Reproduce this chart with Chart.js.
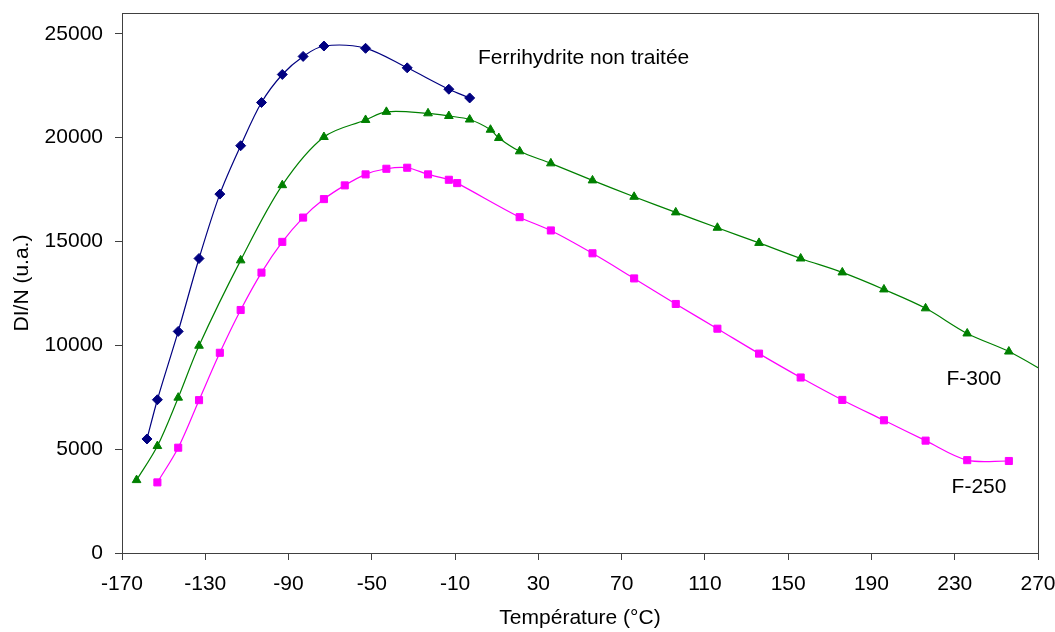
<!DOCTYPE html>
<html>
<head>
<meta charset="utf-8">
<script src="https://cdn.jsdelivr.net/npm/chart.js@4"></script>
<style>
  body { margin: 0; background: #fff; }
  #wrap { width: 1055px; height: 632px; }
</style>
</head>
<body>
<div id="wrap"><canvas id="chart"></canvas></div>
<script>
// temperatures (°C) and DI/N values
const ferriT = [-158, -153, -143, -133, -123, -113, -103, -93, -83, -73, -53, -33, -13, -3];
const ferriV = [5490, 7380, 10670, 14180, 17280, 19610, 21690, 23040, 23910, 24410, 24300, 23360, 22330, 21910];

const f300T = [-163, -153, -143, -133, -113, -93, -73, -53, -43, -23, -13, -3, 7, 11, 21, 36, 56, 76, 96, 116, 136, 156, 176, 196, 216, 236, 256, 276];
const f300V = [3510, 5150, 7480, 9980, 14090, 17710, 20030, 20850, 21240, 21170, 21040, 20870, 20380, 19980, 19340, 18760, 17940, 17150, 16400, 15660, 14930, 14180, 13510, 12690, 11780, 10570, 9700, 8580];

const f250T = [-153, -143, -133, -123, -113, -103, -93, -83, -73, -63, -53, -43, -33, -23, -13, -9, 21, 36, 56, 76, 96, 116, 136, 156, 176, 196, 216, 236, 256];
const f250V = [3400, 5070, 7360, 9640, 11700, 13500, 14980, 16150, 17040, 17700, 18230, 18500, 18550, 18230, 17970, 17810, 16170, 15530, 14430, 13220, 11990, 10800, 9600, 8450, 7370, 6390, 5410, 4470, 4430];

const xTicks = [-170, -130, -90, -50, -10, 30, 70, 110, 150, 190, 230, 270];
const yTicks = [0, 5000, 10000, 15000, 20000, 25000];

// series name labels, anchored in data units
const seriesLabels = [
    { text: 'Ferrihydrite non traitée', x: 1, y: 23830 },
    { text: 'F-300', x: 226, y: 8380 },
    { text: 'F-250', x: 228.5, y: 3170 }
];

const FONT = "'Liberation Sans', Arial, sans-serif";
const AXIS = '#404040';

const pts = (xs, ys) => xs.map((x, i) => ({ x: x, y: ys[i] }));

const frame = {
    id: 'frame',
    afterDraw(chart) {
        const { ctx, chartArea: a, scales } = chart;
        ctx.save();
        ctx.strokeStyle = AXIS;
        ctx.lineWidth = 1;
        ctx.strokeRect(Math.round(a.left) + 0.5, Math.round(a.top) + 0.5,
            Math.round(a.right - a.left), Math.round(a.bottom - a.top));
        ctx.fillStyle = '#000';
        ctx.font = '21px ' + FONT;
        ctx.textBaseline = 'middle';
        ctx.textAlign = 'left';
        seriesLabels.forEach(l => {
            ctx.fillText(l.text, scales.x.getPixelForValue(l.x), scales.y.getPixelForValue(l.y));
        });
        ctx.restore();
    }
};

const line = (label, xs, ys, color, style) => ({
    label: label,
    data: pts(xs, ys),
    borderColor: color,
    backgroundColor: color,
    borderWidth: 1.2,
    pointStyle: style,
    pointRadius: 5,
    pointHoverRadius: 5,
    pointBorderWidth: 1,
    tension: 0.33
});

new Chart(document.getElementById('chart'), {
    type: 'line',
    data: {
        datasets: [
            line('Ferrihydrite non traitée', ferriT, ferriV, '#000080', 'rectRot'),
            line('F-300', f300T, f300V, '#008000', 'triangle'),
            line('F-250', f250T, f250V, '#ff00ff', 'rect')
        ]
    },
    options: {
        responsive: true,
        maintainAspectRatio: false,
        animation: false,
        layout: { padding: { left: 0, top: 13, right: 17, bottom: 0 } },
        plugins: {
            legend: { display: false },
            tooltip: { enabled: false }
        },
        scales: {
            x: {
                type: 'linear',
                min: -170,
                max: 270,
                afterBuildTicks: s => { s.ticks = xTicks.map(v => ({ value: v })); },
                afterFit: s => { s.height = 79; s.paddingLeft = 0; s.paddingRight = 0; },
                ticks: { color: '#000', font: { family: FONT, size: 21 }, padding: 12, maxRotation: 0 },
                grid: { drawOnChartArea: false, color: AXIS, tickLength: 7 },
                border: { color: AXIS },
                title: { display: true, text: 'Température (°C)', color: '#000', font: { family: FONT, size: 21 }, padding: { top: 0, bottom: 1 } }
            },
            y: {
                min: 0,
                max: 26000,
                afterBuildTicks: s => { s.ticks = yTicks.map(v => ({ value: v })); },
                afterFit: s => { s.width = 122; s.paddingTop = 0; s.paddingBottom = 0; },
                ticks: { color: '#000', font: { family: FONT, size: 21 }, padding: 12, callback: v => String(v) },
                grid: { drawOnChartArea: false, color: AXIS, tickLength: 7 },
                border: { color: AXIS },
                title: { display: true, text: 'DI/N (u.a.)', color: '#000', font: { family: FONT, size: 21 }, padding: { top: 10, bottom: 0 } }
            }
        }
    },
    plugins: [frame]
});
</script>
</body>
</html>
